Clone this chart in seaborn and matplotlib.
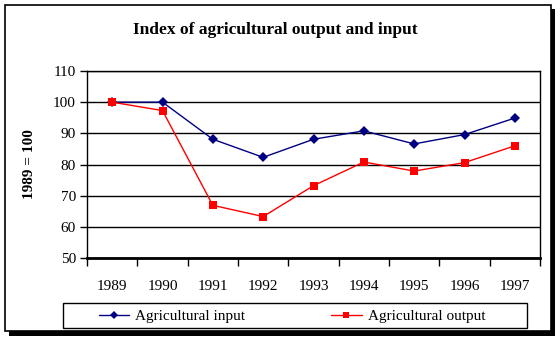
import matplotlib
matplotlib.use("Agg")
import matplotlib.pyplot as plt
from matplotlib.patches import Rectangle
from matplotlib.lines import Line2D
from matplotlib.ticker import FixedLocator, NullFormatter
import seaborn as sns
import pandas as pd

years = ["1989", "1990", "1991", "1992", "1993", "1994", "1995", "1996", "1997"]
agri_input = [100, 100, 88.1, 82.3, 88.1, 90.8, 86.6, 89.6, 94.9]
agri_output = [100, 97.3, 66.9, 63.3, 73.2, 80.8, 77.9, 80.6, 86.0]
series_names = ["Agricultural input", "Agricultural output"]
y_ticks = [50, 60, 70, 80, 90, 100, 110]
colors = ["#000080", "#ff0000"]
markers = ["D", "s"]

sns.set_theme(style="white")
plt.rcParams["font.family"] = ["Liberation Serif", "DejaVu Serif"]
plt.rcParams.update({"text.color": "black", "axes.labelcolor": "black",
                     "xtick.color": "black", "ytick.color": "black"})

df = pd.DataFrame({
    "pos": list(range(len(years))) * 2,
    "value": agri_input + agri_output,
    "series": [series_names[0]] * len(years) + [series_names[1]] * len(years),
})

fig = plt.figure(figsize=(5.6, 3.38), dpi=100)
W, H = 560, 338

# chart frame with drop shadow
fig.patches.append(Rectangle((9 / W, 1 - 336 / H), 546 / W, 327 / H, transform=fig.transFigure,
                             facecolor="black", edgecolor="none", zorder=0))
fig.patches.append(Rectangle((5 / W, 1 - 331 / H), 546 / W, 326 / H, transform=fig.transFigure,
                             facecolor="white", edgecolor="black", linewidth=1.2, zorder=1))

ax = fig.add_axes([87 / W, 1 - 258 / H, 453 / W, 187 / H])
ax.set_zorder(2)
ax.patch.set_alpha(0)

sns.lineplot(data=df, x="pos", y="value", hue="series", style="series",
             palette=colors, markers=markers, dashes=False,
             linewidth=1.0, ax=ax, legend=False)
marker_sizes = [5.5, 5.2]
for line, ms in zip(ax.get_lines(), marker_sizes):
    line.set_markersize(ms)
    line.set_markeredgewidth(0)

ax.set_xlim(-0.5, len(years) - 0.5)
ax.set_ylim(50, 110)
ax.set_yticks(y_ticks)
ax.set_yticklabels([str(t) for t in y_ticks], fontsize=11)
ax.yaxis.grid(True, color="black", linewidth=1.0)
ax.xaxis.grid(False)

ax.xaxis.set_major_locator(FixedLocator([i - 0.5 for i in range(len(years) + 1)]))
ax.xaxis.set_major_formatter(NullFormatter())
ax.xaxis.set_minor_locator(FixedLocator(list(range(len(years)))))
ax.set_xticklabels(years, minor=True, fontsize=11)
ax.tick_params(axis="x", which="major", direction="out", length=6, width=1, color="black", bottom=True)
ax.tick_params(axis="x", which="minor", length=0, pad=16)
ax.tick_params(axis="y", direction="out", length=5, width=1, color="black", left=True, pad=3)

for side in ["left", "right", "top"]:
    ax.spines[side].set_color("black")
    ax.spines[side].set_linewidth(1.0)
ax.spines["bottom"].set_color("black")
ax.spines["bottom"].set_linewidth(2.0)

ax.set_xlabel("")
ax.set_ylabel("1989 = 100", fontsize=11, fontweight="bold", labelpad=12, color="black")

fig.text(275 / W, 1 - 30 / H, "Index of agricultural output and input",
         ha="center", va="center", fontsize=12.5, fontweight="bold", color="black", zorder=3)

# legend box spanning below the plot
fig.patches.append(Rectangle((63 / W, 1 - 328 / H), 464 / W, 25 / H, transform=fig.transFigure,
                             facecolor="white", edgecolor="black", linewidth=1.0, zorder=2))
handles = [Line2D([], [], color=c, marker=m, markersize=s, markeredgewidth=0, linewidth=1.0)
           for c, m, s in zip(colors, markers, [4.5, 4.5])]
leg = fig.legend(handles, series_names, loc="center",
                 bbox_to_anchor=(292 / W, 1 - 316 / H),
                 ncol=2, frameon=False, fontsize=11, handlelength=2.0,
                 handletextpad=0.4, columnspacing=5.6, borderpad=0,
                 labelcolor="black")
leg.set_zorder(3)

fig.savefig("out.png", dpi=100)
